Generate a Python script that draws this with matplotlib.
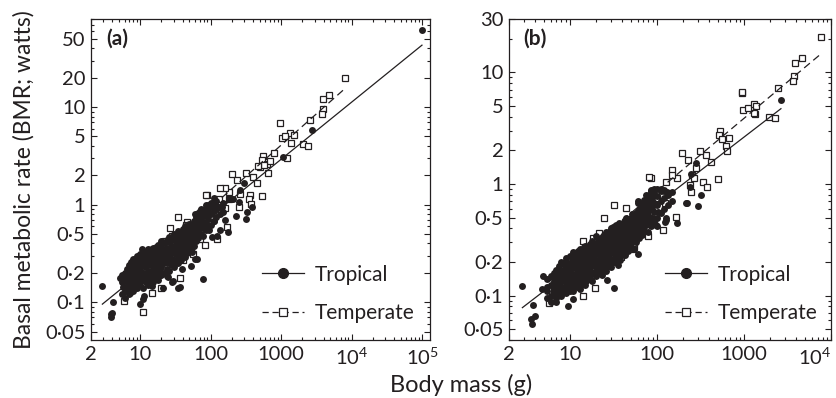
import numpy as np
import matplotlib
matplotlib.use("Agg")
import matplotlib.pyplot as plt
from matplotlib.lines import Line2D
from matplotlib.ticker import FixedLocator, FixedFormatter, LogLocator, NullFormatter

plt.rcParams['font.family'] = ['Lato', 'DejaVu Sans']
plt.rcParams['mathtext.fontset'] = 'custom'
plt.rcParams['mathtext.rm'] = 'Lato'

INK = '#231f20'

# ---- panel (a): dense part of the tropical cloud, mass (g) -> BMR values (W)
tropical_a_cloud = {
    5.5: [0.12, 0.16, 0.19],
    6: [0.13, 0.17, 0.2, 0.11],
    6.5: [0.14, 0.18, 0.22],
    7: [0.12, 0.15, 0.19, 0.24],
    7.5: [0.14, 0.17, 0.21, 0.26],
    8: [0.13, 0.16, 0.2, 0.23, 0.28],
    8.5: [0.15, 0.18, 0.22, 0.26],
    9: [0.14, 0.17, 0.21, 0.25, 0.3],
    9.5: [0.16, 0.19, 0.23, 0.27],
    10: [0.15, 0.18, 0.22, 0.26, 0.31],
    11: [0.14, 0.17, 0.2, 0.24, 0.29, 0.33],
    12: [0.16, 0.19, 0.23, 0.27, 0.32],
    13: [0.15, 0.18, 0.21, 0.25, 0.29, 0.35],
    14: [0.17, 0.2, 0.24, 0.28, 0.33],
    15: [0.16, 0.19, 0.22, 0.26, 0.3, 0.36],
    16: [0.18, 0.21, 0.25, 0.29, 0.34],
    17: [0.19, 0.23, 0.27, 0.31, 0.37],
    18: [0.17, 0.2, 0.24, 0.28, 0.33, 0.39],
    19: [0.21, 0.26, 0.3, 0.35],
    20: [0.19, 0.23, 0.27, 0.32, 0.37, 0.42],
    22: [0.2, 0.25, 0.29, 0.34, 0.4],
    24: [0.22, 0.27, 0.31, 0.36, 0.43],
    26: [0.21, 0.25, 0.3, 0.35, 0.41, 0.47],
    28: [0.24, 0.28, 0.33, 0.38, 0.45],
    30: [0.23, 0.27, 0.32, 0.37, 0.43, 0.5],
    32: [0.26, 0.31, 0.36, 0.42, 0.49],
    34: [0.25, 0.3, 0.35, 0.4, 0.47, 0.54],
    36: [0.28, 0.33, 0.39, 0.45, 0.52],
    38: [0.27, 0.32, 0.37, 0.43, 0.5],
    40: [0.3, 0.35, 0.41, 0.48, 0.56],
    43: [0.29, 0.34, 0.4, 0.46, 0.53, 0.6],
    46: [0.32, 0.38, 0.44, 0.51, 0.58],
    50: [0.35, 0.42, 0.48, 0.55, 0.63],
    54: [0.33, 0.4, 0.47, 0.54, 0.62],
    58: [0.38, 0.45, 0.52, 0.6, 0.68],
    62: [0.42, 0.5, 0.58, 0.66, 0.75],
    67: [0.45, 0.55, 0.63, 0.72, 0.82],
    72: [0.5, 0.6, 0.7, 0.8, 0.9],
    78: [0.48, 0.57, 0.66, 0.77, 0.88],
    85: [0.55, 0.65, 0.78, 0.92, 1.0],
    92: [0.6, 0.72, 0.85, 0.97],
    100: [0.62, 0.8, 0.95, 1.05],
    110: [0.68, 0.86, 1.0],
    120: [0.75, 0.9, 1.1],
    135: [0.8, 0.95],
    150: [0.85, 1.05],
}
tropical_a_extra = [
    (2.9, 0.147), (3.8, 0.075), (4.0, 0.078), (3.9, 0.070), (4.1, 0.10),
    (5.1, 0.179), (5.7, 0.143), (6.7, 0.155), (7.1, 0.123), (9.9, 0.097),
    (10.9, 0.107), (11.4, 0.115), (14.5, 0.146), (15.3, 0.175), (19, 0.19),
    (21, 0.141), (23.7, 0.184), (28.9, 0.164), (34.7, 0.14), (37, 0.143),
    (28, 0.16), (52.5, 0.233), (77, 0.172), (25, 0.18), (39, 0.22),
    (31, 0.25), (60, 0.28), (63, 0.28), (57, 0.38), (46, 0.5), (96, 0.55),
    (136, 0.55), (104, 0.47), (122, 0.48), (175, 0.52), (110, 0.68),
    (160, 0.69), (230, 0.76), (326, 0.85), (316, 0.71), (144, 0.94),
    (119, 0.98), (93, 1.0), (110, 1.18), (210, 1.15), (180, 1.15),
    (255, 1.06), (260, 1.4), (300, 1.66), (380, 0.94), (1080, 3.07),
    (2750, 5.8), (1.0e5, 61), (7.5, 0.188), (9.3, 0.28), (13.6, 0.34),
    (10.5, 0.35), (14.5, 0.35), (60, 0.81), (70, 0.87),
]
temperate_a = [
    (7980, 19.8), (4720, 13.2), (3930, 12.0), (3930, 9.5), (3800, 8.4),
    (2600, 7.4), (970, 6.8), (1320, 5.4), (1500, 5.2), (1025, 4.8),
    (1140, 5.0), (1400, 4.3), (2040, 4.2), (2400, 3.95), (1210, 3.0),
    (800, 3.4), (560, 3.15), (540, 2.85), (630, 2.63), (700, 2.8),
    (500, 2.43), (580, 2.53), (660, 2.1), (465, 2.47), (200, 2.04),
    (235, 1.77), (315, 2.1), (405, 1.92), (450, 1.68), (540, 1.22),
    (365, 1.25), (180, 1.35), (260, 1.3), (350, 1.13), (375, 1.02),
    (255, 0.95), (88, 1.27), (160, 1.48), (180, 1.13), (131, 1.15),
    (160, 0.93), (34, 0.74), (46, 0.67), (26.5, 0.57), (22.5, 0.42),
    (70, 0.44), (83, 0.39), (122, 0.44), (172, 0.59), (36.7, 0.177),
    (20, 0.141), (14.8, 0.124), (11, 0.08), (5.9, 0.102), (40, 0.27),
    (57, 0.31), (86, 1.25), (136, 1.49),
    (9, 0.2), (12, 0.25), (15, 0.3), (18, 0.22), (22, 0.33), (25, 0.4),
    (28, 0.48), (30, 0.35), (35, 0.45), (40, 0.5), (45, 0.62), (50, 0.45),
    (60, 0.6), (7.5, 0.18), (100, 0.85), (120, 0.95),
]

# ---- panel (b)
tropical_b_cloud = {
    5.5: [0.095, 0.12, 0.14],
    6: [0.1, 0.125, 0.15, 0.088],
    6.5: [0.11, 0.135, 0.16],
    7: [0.095, 0.115, 0.14, 0.17],
    7.5: [0.105, 0.13, 0.155, 0.185],
    8: [0.1, 0.12, 0.145, 0.17, 0.2],
    8.5: [0.11, 0.135, 0.16, 0.19],
    9: [0.105, 0.125, 0.15, 0.18, 0.215],
    9.5: [0.12, 0.14, 0.165, 0.195],
    10: [0.11, 0.13, 0.16, 0.19, 0.225],
    11: [0.11, 0.13, 0.155, 0.18, 0.21, 0.245],
    12: [0.12, 0.145, 0.17, 0.2, 0.235],
    13: [0.115, 0.135, 0.16, 0.19, 0.22, 0.26],
    14: [0.13, 0.155, 0.18, 0.21, 0.25],
    15: [0.125, 0.145, 0.17, 0.2, 0.235, 0.28],
    16: [0.14, 0.165, 0.19, 0.225, 0.265],
    17: [0.145, 0.175, 0.205, 0.24, 0.29],
    18: [0.135, 0.16, 0.19, 0.22, 0.26, 0.31],
    19: [0.16, 0.195, 0.23, 0.27],
    20: [0.15, 0.18, 0.21, 0.25, 0.29, 0.34],
    22: [0.16, 0.19, 0.225, 0.265, 0.31],
    24: [0.17, 0.205, 0.24, 0.28, 0.34],
    26: [0.165, 0.195, 0.23, 0.27, 0.32, 0.37],
    28: [0.185, 0.22, 0.26, 0.3, 0.36],
    30: [0.18, 0.21, 0.25, 0.29, 0.34, 0.4],
    32: [0.2, 0.24, 0.28, 0.33, 0.38],
    34: [0.2, 0.235, 0.27, 0.32, 0.37, 0.43],
    36: [0.22, 0.26, 0.3, 0.35, 0.41],
    38: [0.21, 0.25, 0.29, 0.34, 0.4],
    40: [0.23, 0.27, 0.32, 0.37, 0.44],
    43: [0.23, 0.27, 0.31, 0.36, 0.42, 0.48],
    46: [0.25, 0.3, 0.35, 0.4, 0.46],
    50: [0.27, 0.32, 0.38, 0.44, 0.5],
    54: [0.26, 0.31, 0.37, 0.43, 0.5],
    58: [0.3, 0.36, 0.42, 0.48, 0.55],
    62: [0.33, 0.39, 0.46, 0.53, 0.6],
    67: [0.35, 0.42, 0.5, 0.57, 0.65],
    72: [0.38, 0.46, 0.55, 0.63, 0.72],
    78: [0.37, 0.45, 0.53, 0.62, 0.7],
    85: [0.42, 0.5, 0.62, 0.75, 0.86],
    92: [0.46, 0.56, 0.68, 0.8, 0.88],
    100: [0.5, 0.65, 0.78, 0.9],
    110: [0.55, 0.7, 0.86],
    120: [0.6, 0.75, 0.88],
    135: [0.65, 0.8],
    150: [0.7, 0.85],
}
# more species between the columns above (panel b cloud is solid black)
tropical_b_fill = {
    6.8: [0.105, 0.125, 0.15],
    7.8: [0.115, 0.14, 0.165],
    8.8: [0.115, 0.14, 0.17, 0.2],
    10.5: [0.12, 0.145, 0.175, 0.205],
    11.5: [0.125, 0.15, 0.19, 0.225],
    12.5: [0.13, 0.16, 0.185, 0.215, 0.25],
    13.5: [0.125, 0.15, 0.175, 0.205, 0.24],
    14.5: [0.14, 0.165, 0.195, 0.23, 0.27],
    15.5: [0.135, 0.16, 0.185, 0.215, 0.25],
    16.5: [0.15, 0.18, 0.21, 0.245, 0.28],
    17.5: [0.155, 0.185, 0.215, 0.255],
    21: [0.165, 0.2, 0.235, 0.275, 0.32],
    23: [0.175, 0.21, 0.25, 0.29, 0.33],
    25: [0.18, 0.215, 0.255, 0.3, 0.35],
    27: [0.19, 0.23, 0.27, 0.31, 0.35],
    29: [0.2, 0.24, 0.28, 0.32, 0.38],
    31: [0.21, 0.25, 0.3, 0.35, 0.41],
    33: [0.22, 0.26, 0.31, 0.36, 0.42],
    35: [0.23, 0.275, 0.32, 0.38],
    37: [0.24, 0.28, 0.33, 0.39, 0.45],
    39: [0.25, 0.3, 0.35, 0.42],
    41.5: [0.25, 0.3, 0.35, 0.4, 0.46],
    44.5: [0.27, 0.32, 0.38, 0.44, 0.5],
    48: [0.29, 0.34, 0.4, 0.47],
    52: [0.3, 0.35, 0.41, 0.47, 0.54],
    56: [0.32, 0.39, 0.45, 0.52],
    60: [0.35, 0.41, 0.49, 0.57],
    65: [0.38, 0.45, 0.53, 0.61],
    70: [0.41, 0.5, 0.6, 0.68],
    75: [0.43, 0.52, 0.6, 0.7],
    81: [0.47, 0.58, 0.68, 0.8],
    88: [0.5, 0.6, 0.72, 0.84],
}
tropical_b_extra = [
    (2.85, 0.123), (3.8, 0.082), (3.56, 0.062), (3.7, 0.056), (3.95, 0.066),
    (4.93, 0.151), (4.85, 0.115), (5.4, 0.11), (7.0, 0.088), (9.6, 0.08),
    (10.9, 0.093), (23.7, 0.153), (27, 0.137), (32.5, 0.116), (28, 0.213),
    (36, 0.186), (61, 0.236), (27, 0.22), (215, 0.68), (300, 0.63),
    (320, 0.79), (98, 0.43), (125, 0.46), (127, 0.5), (60, 0.71),
    (2660, 5.66), (245, 1.23), (280, 1.54), (60, 0.67), (104, 0.56),
    (127, 0.48), (172, 0.45), (99, 0.42), (240, 0.93), (220, 0.68),
    (85, 0.88), (92, 0.9), (110, 0.9), (120, 0.87), (130, 0.85), (75, 0.8),
]
temperate_b = [
    (7670, 20.6), (4640, 13.3), (3860, 12.1), (3790, 9.3), (3690, 8.3),
    (2430, 7.2), (950, 6.5), (960, 6.6), (980, 4.6), (1110, 4.75),
    (1290, 5.2), (1390, 5.0), (1330, 4.2), (1300, 4.3), (1920, 4.0),
    (2290, 3.88), (530, 3.0), (520, 2.77), (560, 2.5), (680, 2.6),
    (630, 2.2), (640, 1.97), (420, 1.56), (370, 1.8), (310, 1.99),
    (195, 1.88), (225, 1.64), (280, 1.38), (255, 1.2), (265, 1.12),
    (150, 1.34), (170, 1.14), (335, 1.03), (375, 0.93), (505, 1.11),
    (245, 0.85), (85, 1.13), (25, 0.50), (31.8, 0.65), (44, 0.61),
    (18.5, 0.33), (70, 0.39), (79, 0.34), (118, 0.39), (55, 0.27),
    (38.5, 0.22), (19.5, 0.117), (14.3, 0.10), (5.8, 0.085), (165, 0.51),
    (125, 0.68), (240, 0.97), (127, 1.03), (150, 1.2), (82, 1.16),
    (52.5, 0.26), (14, 0.31), (21.7, 0.36),
    (9, 0.15), (12, 0.2), (15, 0.22), (18, 0.18), (22, 0.26), (26, 0.3),
    (30, 0.28), (35, 0.35), (40, 0.33), (45, 0.45), (60, 0.48),
    (7.5, 0.13), (100, 0.75), (6.5, 0.11),
]

# fitted lines: log10(BMR) = a + b * log10(mass)
fit_tropical_a = (-1.29, 0.585)
fit_temperate_a = (-1.31, 0.64)
fit_tropical_b = (-1.381, 0.60)
fit_temperate_b = (-1.372, 0.653)

# axes
xlim_a, ylim_a = (2, 1.3e5), (0.041, 80)
xlim_b, ylim_b = (2, 1.0e4), (0.04, 30)
xticks_a = [2, 10, 100, 1000, 1e4, 1e5]
xlabels_a = ['2', '10', '100', '1000', r'$10^4$', r'$10^5$']
xticks_b = [2, 10, 100, 1000, 1e4]
xlabels_b = ['2', '10', '100', '1000', r'$10^4$']
yticks_a = [0.05, 0.1, 0.2, 0.5, 1, 2, 5, 10, 20, 50]
ylabels_a = ['0·05', '0·1', '0·2', '0·5', '1', '2', '5', '10', '20', '50']
yticks_b = [0.05, 0.1, 0.2, 0.5, 1, 2, 5, 10, 30]
ylabels_b = ['0·05', '0·1', '0·2', '0·5', '1', '2', '5', '10', '30']


def unpack(clouds, extra):
    mass, bmr = [], []
    for cloud in clouds:
        for m, values in cloud.items():
            mass += [m] * len(values)
            bmr += values
    for m, b in extra:
        mass.append(m)
        bmr.append(b)
    return np.array(mass), np.array(bmr)


def fit_line(ax, mass, fit, **kw):
    a, b = fit
    xs = np.geomspace(mass.min(), mass.max(), 50)
    ax.plot(xs, 10 ** (a + b * np.log10(xs)), color=INK, lw=0.9, zorder=4, **kw)


def draw_panel(ax, trop, temp, fit_t, fit_w, xlim, ylim, xt, xl, yt, yl, tag,
               legend_x):
    tm, tb = trop
    wm = np.array([p[0] for p in temp])
    wb = np.array([p[1] for p in temp])
    ax.plot(wm, wb, ls='none', marker='s', ms=5.0, mfc='white', mec=INK,
            mew=0.9, zorder=2)
    ax.plot(tm, tb, ls='none', marker='o', ms=5.0, mfc=INK, mec=INK,
            mew=0, zorder=3)
    fit_line(ax, tm, fit_t, ls='-')
    fit_line(ax, wm, fit_w, ls=(0, (6, 3.5)))

    ax.set_xscale('log')
    ax.set_yscale('log')
    ax.set_xlim(*xlim)
    ax.set_ylim(*ylim)
    ax.xaxis.set_major_locator(FixedLocator(xt))
    ax.xaxis.set_major_formatter(FixedFormatter(xl))
    ax.yaxis.set_major_locator(FixedLocator(yt))
    ax.yaxis.set_major_formatter(FixedFormatter(yl))
    for axis in (ax.xaxis, ax.yaxis):
        axis.set_minor_locator(LogLocator(base=10, subs=np.arange(2, 10), numticks=30))
        axis.set_minor_formatter(NullFormatter())
    ax.tick_params(which='both', direction='in', top=True, right=True,
                   colors=INK, labelsize=14.5, width=0.8)
    ax.tick_params(which='major', length=4, pad=4)
    ax.tick_params(which='minor', length=2.2)
    for sp in ax.spines.values():
        sp.set_color(INK)
        sp.set_linewidth(0.9)

    ax.text(0.045, 0.94, tag, transform=ax.transAxes, fontsize=15,
            fontweight='bold', color=INK, va='center', ha='left')

    handles = [
        Line2D([], [], color=INK, lw=0.9, marker='o', ms=7, mfc=INK, mec=INK),
        Line2D([], [], color=INK, lw=0.9, ls=(0, (5, 3)), marker='s', ms=6,
               mfc='white', mec=INK, mew=0.9),
    ]
    ax.legend(handles, ['Tropical', 'Temperate'], loc='lower left',
              bbox_to_anchor=(legend_x, 0.052), frameon=False, fontsize=15,
              handlelength=2.0, handletextpad=0.5, labelspacing=0.9,
              borderpad=0, borderaxespad=0, labelcolor=INK)


fig = plt.figure(figsize=(8.37, 3.98), dpi=100)
ax_a = fig.add_axes([91 / 837, 58 / 398, 339 / 837, 321 / 398])
ax_b = fig.add_axes([509 / 837, 58 / 398, 322 / 837, 321 / 398])

draw_panel(ax_a, unpack([tropical_a_cloud], tropical_a_extra), temperate_a,
           fit_tropical_a, fit_temperate_a, xlim_a, ylim_a,
           xticks_a, xlabels_a, yticks_a, ylabels_a, '(a)', 0.505)
draw_panel(ax_b, unpack([tropical_b_cloud, tropical_b_fill], tropical_b_extra),
           temperate_b, fit_tropical_b, fit_temperate_b, xlim_b, ylim_b,
           xticks_b, xlabels_b, yticks_b, ylabels_b, '(b)', 0.485)

# last tick label of panel (b) sits at the figure edge
ax_b.get_xticklabels()[-1].set_horizontalalignment('right')

fig.text(24 / 837, 1 - 180 / 398, 'Basal metabolic rate (BMR; watts)',
         rotation=90, ha='center', va='center', fontsize=16.5, color=INK)
fig.text(461 / 837, 1 - 385 / 398, 'Body mass (g)', ha='center',
         va='center', fontsize=17, color=INK)

fig.savefig('out.png', dpi=100)
